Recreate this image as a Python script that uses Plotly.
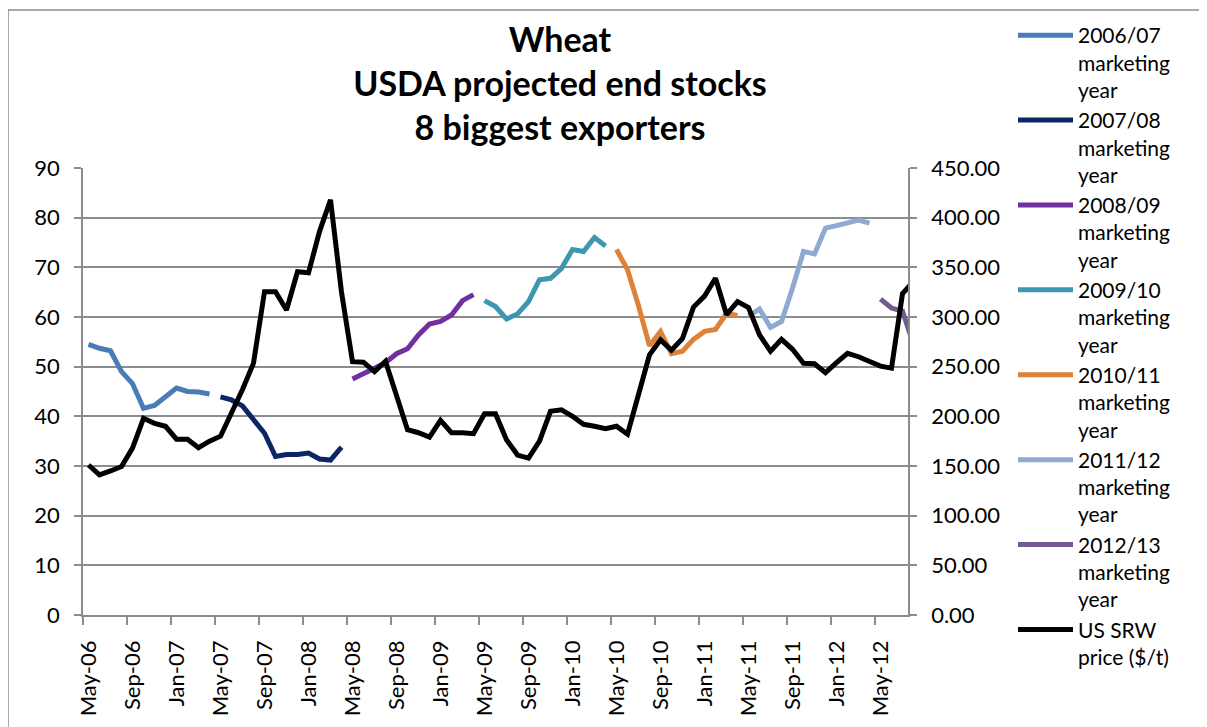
import pandas as pd
import plotly.graph_objects as go

# ---- categories (monthly, May-06 .. Aug-12) ----
months = [p.strftime("%b-%y") for p in pd.period_range("2006-05", "2012-08", freq="M")]
tick_labels = ["May-06", "Sep-06", "Jan-07", "May-07", "Sep-07", "Jan-08", "May-08",
               "Sep-08", "Jan-09", "May-09", "Sep-09", "Jan-10", "May-10", "Sep-10",
               "Jan-11", "May-11", "Sep-11", "Jan-12", "May-12"]

# ---- USDA projected end stocks (million t), each marketing year starts in May ----
stocks_2006_07 = [54.5, 53.7, 53.2, 49.0, 46.6, 41.6, 42.2, 43.9, 45.7, 45.0, 44.9, 44.5]
stocks_2007_08 = [43.9, 43.3, 42.1, 39.3, 36.6, 31.9, 32.3, 32.3, 32.6, 31.4, 31.2, 33.8]
stocks_2008_09 = [47.5, 48.7, 49.7, 50.8, 52.6, 53.6, 56.4, 58.6, 59.1, 60.4, 63.3, 64.5]
stocks_2009_10 = [63.3, 62.1, 59.6, 60.6, 63.1, 67.5, 67.8, 69.8, 73.6, 73.2, 76.0, 74.3]
stocks_2010_11 = [73.6, 69.5, 62.3, 54.2, 57.1, 52.6, 53.1, 55.5, 57.1, 57.5, 60.7, 60.3]
stocks_2011_12 = [60.2, 61.6, 57.9, 59.1, 65.8, 73.2, 72.7, 77.9, 78.4, 78.9, 79.5, 78.9]
stocks_2012_13 = [63.6, 61.8, 61.2, 54.5]
start_months = ["May-06", "May-07", "May-08", "May-09", "May-10", "May-11", "May-12"]

# ---- US SRW price ($/t), May-06 .. Aug-12 ----
srw_price = [151, 141, 145, 149.5, 168, 198, 193, 190, 177, 177, 168.5, 175,
             180, 203, 227, 253.5, 325.5, 325.5, 307, 345.5, 344.5, 386, 418, 325,
             255, 254.5, 245, 255.5, 222, 186.5, 183.5, 179, 196, 183.5, 183.5, 182.5,
             202.5, 202.5, 176.5, 161, 158, 175, 205, 206.5, 200, 192, 190, 187.5,
             190, 182, 222, 262, 277, 266.5, 278.5, 310, 321, 339, 302.5, 315.5,
             309.5, 282, 265.5, 277.5, 267.5, 253.5, 253, 244, 254, 263.5, 260, 255,
             250.5, 248.5, 323.5, 336]

series_names = ["2006/07<br>marketing<br>year", "2007/08<br>marketing<br>year",
                "2008/09<br>marketing<br>year", "2009/10<br>marketing<br>year",
                "2010/11<br>marketing<br>year", "2011/12<br>marketing<br>year",
                "2012/13<br>marketing<br>year"]
series_values = [stocks_2006_07, stocks_2007_08, stocks_2008_09, stocks_2009_10,
                 stocks_2010_11, stocks_2011_12, stocks_2012_13]
colors = ["#4A7CB8", "#0C2566", "#7030A0", "#3D97B0", "#DE823A", "#8FA9D0", "#735A93"]

FONT = "Lato"
GRID = "#8C8C8C"

# figure geometry (page body adds an 8 px offset)
W, H = 1199, 719
ML, MR, MT, MB = 75, 299, 160, 112
PW, PH = W - ML - MR, H - MT - MB


def xpos(idx):
    # centre of the monthly category
    return idx + 0.5


def px_x(px):
    return (px - ML) / PW


def px_y(py):
    return (MT + PH - py) / PH


fig = go.Figure()
for name, vals, start, col in zip(series_names, series_values, start_months, colors):
    s = months.index(start)
    fig.add_trace(go.Scatter(
        x=[xpos(s + k) for k in range(len(vals))], y=vals, name=name,
        mode="lines", line=dict(color=col, width=5), yaxis="y"))

fig.add_trace(go.Scatter(
    x=[xpos(k) for k in range(len(srw_price))], y=srw_price,
    name="US SRW<br>price ($/t)", mode="lines",
    line=dict(color="#000000", width=5), yaxis="y2"))

n_shown = months.index("Aug-12")  # axis ends at end of Jul-12
tick_pos = [months.index(t) for t in tick_labels]

fig.update_layout(
    width=W, height=H,
    paper_bgcolor="white", plot_bgcolor="white",
    margin=dict(l=ML, r=MR, t=MT, b=MB, autoexpand=False),
    font=dict(family=FONT, size=22, color="black"),
    title=dict(text="Wheat<br>USDA projected end stocks<br>8 biggest exporters",
               font=dict(family=FONT, size=34, color="black", weight="bold"),
               x=552 / W, xref="container", xanchor="center",
               y=1 - 44 / H, yref="container", yanchor="top"),
    xaxis=dict(range=[0, n_shown], showgrid=False, zeroline=False,
               showline=True, linecolor=GRID, linewidth=1.5,
               tickmode="array", tickvals=[xpos(p) for p in tick_pos],
               ticktext=tick_labels, tickangle=-90, ticks="",
               ticklabelstandoff=15,
               tickfont=dict(family=FONT, size=22, color="black"),
               minor=dict(tickmode="array", tickvals=tick_pos, ticks="outside",
                          ticklen=8, tickcolor=GRID, tickwidth=1.5, showgrid=False)),
    yaxis=dict(range=[0, 90], dtick=10, showgrid=True, gridcolor=GRID, gridwidth=1.5,
               zeroline=False, showline=True, linecolor=GRID, linewidth=1.5,
               ticks="outside", ticklen=7, tickcolor=GRID, tickwidth=1.5,
               ticklabelstandoff=10,
               tickfont=dict(family=FONT, size=22, color="black")),
    yaxis2=dict(range=[0, 450], dtick=50, tickformat=".2f", overlaying="y",
                side="right", showgrid=False, zeroline=False, showline=True,
                linecolor=GRID, linewidth=1.5, ticks="outside", ticklen=7,
                tickcolor=GRID, tickwidth=1.5, ticklabelstandoff=10,
                tickfont=dict(family=FONT, size=22, color="black")),
    legend=dict(x=px_x(1005), xanchor="left",
                y=1 - 7 / H, yref="container", yanchor="top",
                maxheight=H, valign="top", bgcolor="rgba(0,0,0,0)", borderwidth=0,
                font=dict(family=FONT, size=21, color="black"),
                itemwidth=55, tracegroupgap=0),
    showlegend=True,
)

# outer chart border (extends past the right/bottom edges as in the reference)
fig.add_shape(type="rect", xref="paper", yref="paper",
              x0=px_x(0), x1=px_x(W + 20),
              y0=px_y(H + 20), y1=px_y(2),
              line=dict(color="#8C8C8C", width=1.5), fillcolor="rgba(0,0,0,0)",
              layer="below")

fig.write_html("out.html")
